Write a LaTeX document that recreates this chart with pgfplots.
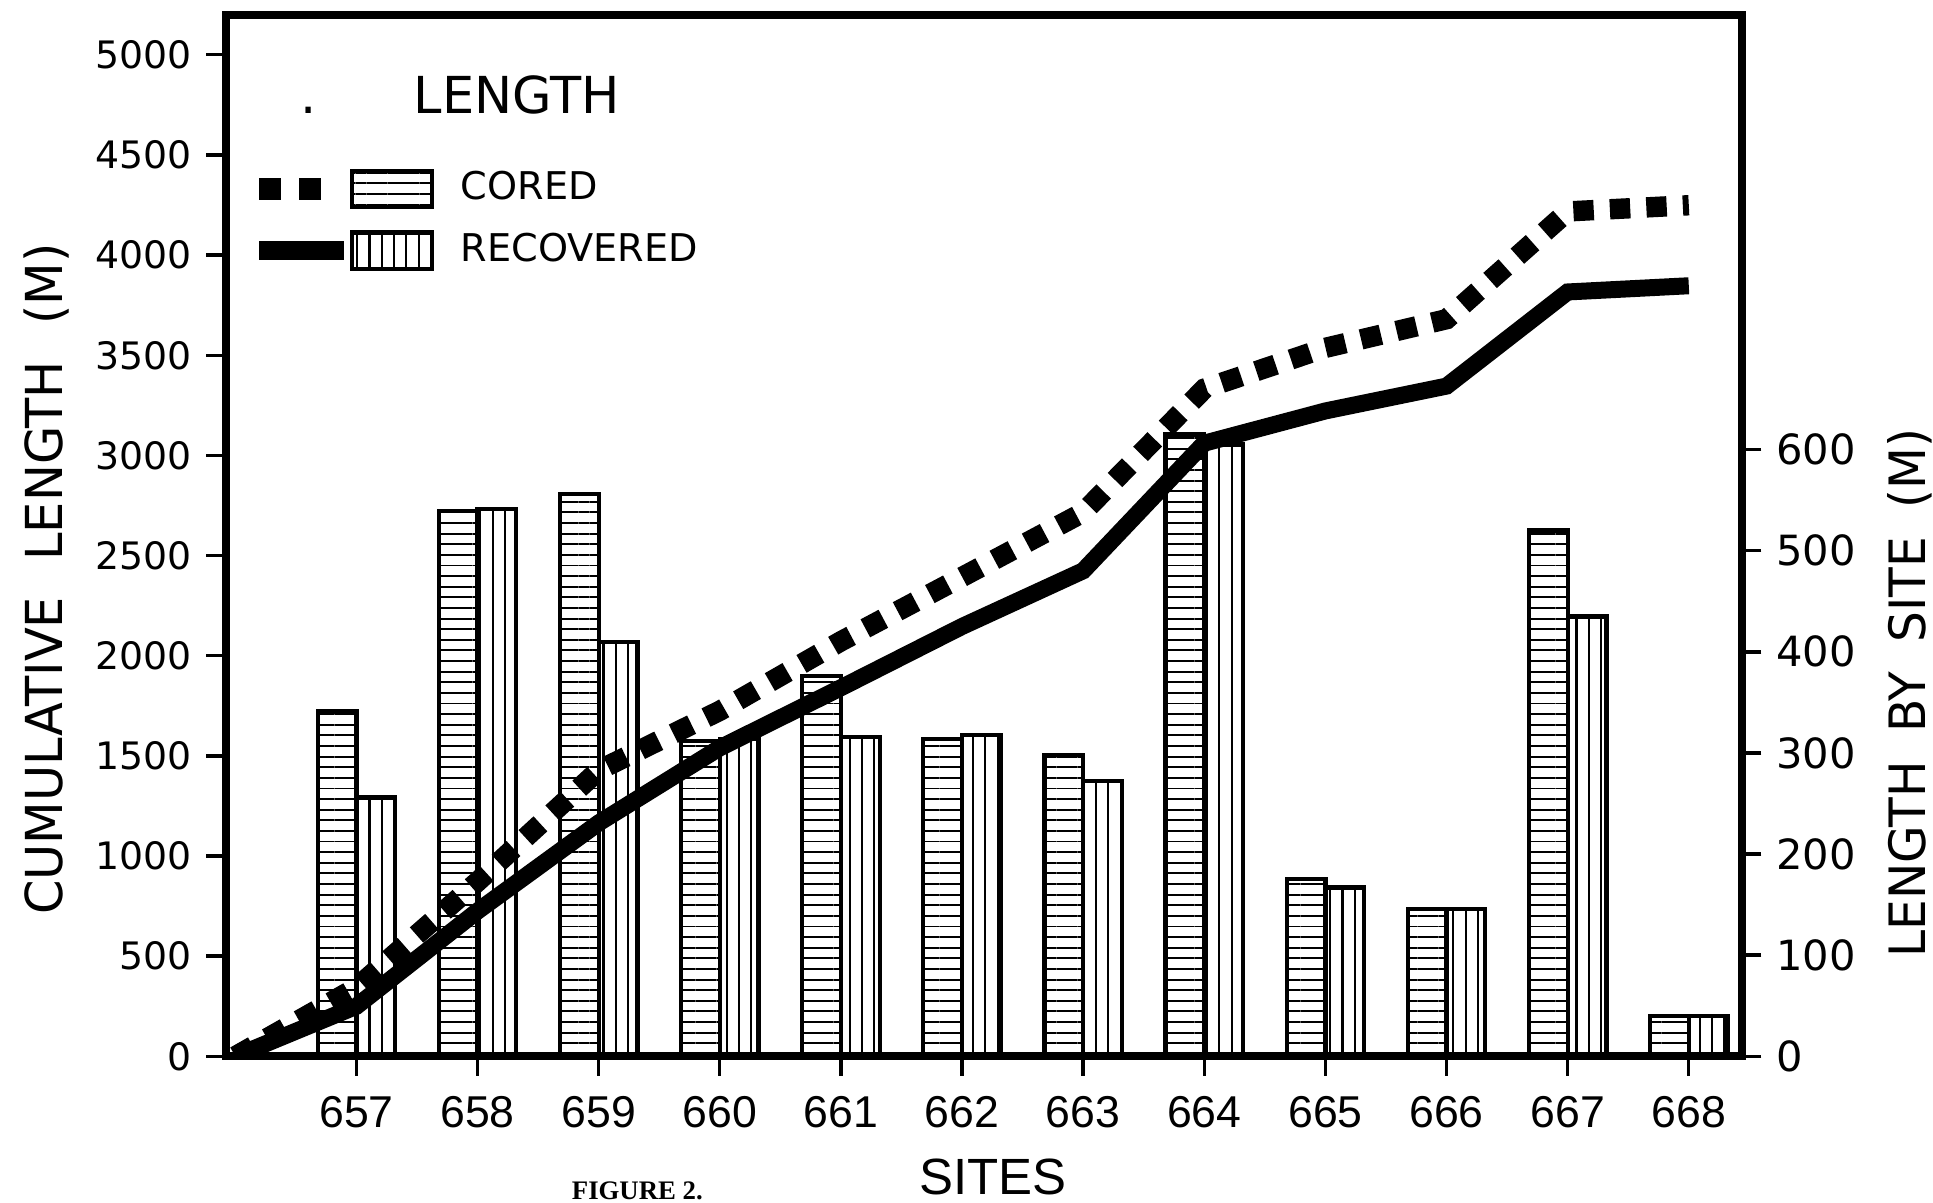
\documentclass[border=0pt]{standalone}
\usepackage{pgfplots}
\pgfplotsset{compat=1.18}
\usepackage{fontspec}
\setmainfont{DejaVu Sans}
\newfontfamily\labfont[FakeStretch=0.97]{DejaVu Sans}
\newfontfamily\libsans{Liberation Sans}
\newfontfamily\figfont{Liberation Serif}
\usetikzlibrary{patterns.meta}

\tikzset{
  hpat/.style={fill=white, postaction={pattern={Lines[angle=0,distance=2.5pt,line width=0.45pt]}}},
  vpat/.style={fill=white, postaction={pattern={Lines[angle=90,distance=2.9pt,line width=0.5pt]}}},
}

\begin{document}
\begin{tikzpicture}
\useasboundingbox (-1.867cm,-1.21cm) rectangle (14.13cm,8.742cm);
\pgfplotsset{
  common/.style={
    scale only axis, width=12.55cm, height=8.62cm,
    xmin=655.92, xmax=668.44,
    tick align=outside,
    major tick length=0.16cm,
    tick style={line width=0.8pt, black},
    /pgf/number format/assume math mode=true,
    /pgf/number format/1000 sep={},
    scaled ticks=false,
  }
}
% ---- bars: length by site (right axis)
\begin{axis}[common,
  axis y line*=right, axis x line=none,
  axis line style={line width=1.9pt},
  ymin=0, ymax=1030,
  ytick={0,100,200,300,400,500,600},
  yticklabel style={font=\fontsize{9.8}{11}\selectfont},
  every axis y label/.style={at={(axis description cs:1.1106,0.349)}, anchor=center, rotate=90, inner sep=0pt},
  ylabel={\labfont\fontsize{11.8}{13}\selectfont LENGTH\hspace{0.24cm}BY\hspace{0.24cm}SITE\hspace{0.24cm}(M)},
  ybar, bar width=0.32,
]
\addplot[draw=black, line width=1pt, hpat, bar shift=-0.16] coordinates {
 (657,341) (658,539) (659,556) (660,312) (661,376) (662,314)
 (663,298) (664,615) (665,175) (666,146) (667,520) (668,40)};
\addplot[draw=black, line width=1pt, vpat, bar shift=0.16] coordinates {
 (657,256) (658,541) (659,410) (660,314) (661,316) (662,318)
 (663,272) (664,605) (665,167) (666,146) (667,435) (668,40)};
\end{axis}
% ---- cumulative lines (left axis)
\begin{axis}[common, name=main,
  clip mode=individual,
  axis line style={line width=1.9pt},
  ymin=0, ymax=5200,
  ytick={0,500,...,5000},
  ytick pos=left, xtick pos=bottom,
  xtick={657,658,...,668},
  yticklabel style={font=\fontsize{8.9}{10}\selectfont},
  xticklabel style={font=\fontsize{10.5}{12}\libsans, yshift=-0.05cm},
  every axis y label/.style={at={(axis description cs:-0.118,0.458)}, anchor=center, rotate=90, inner sep=0pt},
  ylabel={\labfont\fontsize{12}{14}\selectfont CUMULATIVE\hspace{0.3cm}LENGTH\hspace{0.3cm}(M)},
  every axis x label/.style={at={(axis description cs:0.506,-0.116)}, anchor=center, inner sep=0pt},
  xlabel={\fontsize{12}{14}\libsans SITES},
  legend style={at={(axis description cs:0.0146,0.853)}, anchor=north west,
    draw=none, fill=none, inner sep=0pt, row sep=5pt,
    font=\fontsize{9}{10}\selectfont,
    nodes={inner sep=0pt, anchor=west},
    /tikz/every odd column/.append style={column sep=0.22cm}},
  legend cell align=left,
]
\addplot[line width=4.8pt, dash pattern=on 4.8pt off 3.8pt,
  legend image code/.code={
    \draw[line width=5pt, dash pattern=on 5.2pt off 4.2pt] (0pt,0pt) -- (14.6pt,0pt);
    \draw[solid, line width=1pt, hpat] (0.77cm,-0.15cm) rectangle (1.43cm,0.15cm);
  }] coordinates {
 (656,0) (657,343) (658,872) (659,1428) (660,1725) (661,2072) (662,2393)
 (663,2715) (664,3333) (665,3537) (666,3680) (667,4218) (668,4249)};
\addlegendentry{CORED}
\addplot[line width=4pt,
  legend image code/.code={
    \draw[line width=4.5pt] (0cm,0cm) -- (0.70cm,0cm);
    \draw[solid, line width=1pt, vpat] (0.77cm,-0.15cm) rectangle (1.43cm,0.15cm);
  }] coordinates {
 (656,0) (657,250) (658,725) (659,1165) (660,1540) (661,1840) (662,2146)
 (663,2424) (664,3061) (665,3222) (666,3346) (667,3816) (668,3847)};
\addlegendentry{RECOVERED}
\node[font=\fontsize{12}{14}\selectfont, anchor=center] at (axis description cs:0.192,0.923) {LENGTH};
\node[font=\fontsize{12}{14}\selectfont, anchor=center] at (axis description cs:0.055,0.908) {.};
\node[font=\fontsize{6.3}{7}\figfont\bfseries, anchor=center] at (axis description cs:0.2715,-0.129) {FIGURE 2.};
\end{axis}
\end{tikzpicture}
\end{document}
